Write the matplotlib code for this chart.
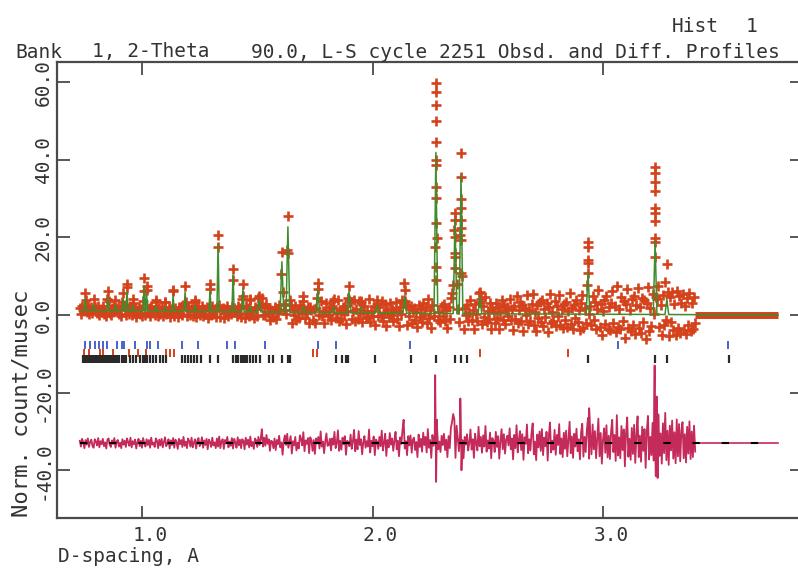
import numpy as np
import matplotlib
matplotlib.use('Agg')
import matplotlib.pyplot as plt
from matplotlib.transforms import ScaledTranslation

plt.rcParams['font.family'] = ['DejaVu Sans Mono', 'DejaVu Sans']

# ---- peaks: d-spacing, calc height, obs top ----
peak_d = [0.753, 0.790, 0.852, 0.885, 0.918, 0.935, 0.960, 1.009, 1.020, 1.060,
          1.100, 1.135, 1.187, 1.230, 1.295, 1.330, 1.395, 1.438, 1.470, 1.508,
          1.607, 1.633, 1.700, 1.763, 1.830, 1.898, 1.950, 2.020, 2.140, 2.275,
          2.358, 2.384, 2.466, 2.935, 3.226, 3.277]
peak_calc = [3.0, 1.5, 3.5, 1.5, 3.0, 5.0, 1.5, 6.5, 4.5, 1.2,
             1.0, 4.0, 5.0, 1.5, 5.5, 17.5, 9.5, 6.0, 1.5, 3.0,
             13.0, 22.0, 1.5, 6.0, 1.5, 5.5, 1.5, 2.0, 4.5, 41.5,
             24.5, 35.6, 4.5, 10.8, 18.8, 4.0]
peak_obs = [4.5, 3.0, 5.0, 2.8, 4.5, 7.0, 3.0, 8.5, 6.5, 2.8,
            2.5, 5.5, 6.5, 3.0, 7.0, 19.8, 11.0, 7.2, 3.0, 4.0,
            15.5, 24.7, 3.0, 7.5, 3.0, 7.0, 3.0, 3.5, 6.0, 59.3,
            26.0, 41.5, 5.5, 18.6, 38.0, 12.9]

# background knots
bg_d = [0.73, 1.0, 1.5, 2.0, 2.5, 3.0, 3.4, 3.76]
bg_y = [1.2, 1.0, 0.8, 0.5, 0.3, 0.2, 0.1, 0.0]

# obs - calc, every 0.005 A from 0.73 A (one row = 0.1 A)
grid_start, grid_step = 0.73, 0.005
dev = [0.6, -0.9, 1.1, 0.2, -1.3, 0.8, -0.4, 1.2, -1.0, 0.3, 0.9, -0.7, -1.2, 1.0, 0.4, -0.6, 1.3, -1.1, 0.5, -0.3,
       1.1, -0.8, 0.2, -1.4, 0.9, 1.2, -0.5, -1.0, 0.7, -0.2, 1.3, -1.2, 0.4, 0.8, -0.9, 0.1, -1.3, 1.0, -0.4, 0.6,
       -1.0, 1.2, 0.3, -0.7, 1.4, -1.1, 0.5, -0.3, 0.9, -1.4, 0.2, 1.1, -0.8, 0.6, -1.2, 1.3, -0.1, -0.9, 1.0, -0.5,
       0.8, -1.2, 1.4, -0.4, 0.1, -1.0, 1.2, 0.6, -1.3, 0.9, -0.6, 1.1, -1.1, 0.3, 1.5, -0.8, -0.2, 1.0, -1.4, 0.7,
       -0.5, 1.3, -1.2, 0.9, 0.2, -1.5, 1.1, -0.3, 0.8, -1.0, 1.6, -0.7, 0.4, -1.3, 1.2, 0.5, -0.9, 1.4, -1.1, 0.1,
       1.0, -1.4, 0.6, 1.3, -0.8, -0.2, 1.5, -1.2, 0.7, -0.5, 1.1, -1.6, 0.9, 0.3, -1.0, 1.4, -0.6, 0.2, -1.3, 1.2,
       -0.9, 1.7, -1.3, 0.5, 1.0, -1.5, 0.8, -0.1, 1.6, -1.1, 0.4, -0.7, 1.3, -1.4, 1.1, 0.2, -1.2, 1.5, -0.6, 0.9,
       -1.3, 1.0, 0.6, -1.6, 1.4, -0.4, 0.9, -1.1, 1.7, -0.8, 0.3, -1.5, 1.2, 0.7, -1.0, 1.6, -0.5, 1.1, 3.6, -0.9,
       1.4, -0.7, 2.1, -0.2, 1.0, -2.0, 0.6, 0.4, -1.3, 1.2, -1.8, 0.8, -0.3, 1.9, -1.1, 0.2, -3.0, 0.6, 2.0, -0.5,
       2.4, -1.2, 0.3, 1.8, -2.7, 0.5, -0.6, 1.6, -1.9, 0.1, -1.4, 2.0, 1.1, -0.6, 2.8, -2.1, 0.7, -0.2, 1.3, -2.6,
       1.5, 0.7, -2.0, 0.8, -2.8, 1.2, -0.1, 1.6, -1.4, 3.0, -0.9, 0.4, -2.6, 0.4, 2.5, -0.7, -0.5, 1.1, -1.9, 1.2,
       -0.4, 2.9, -1.3, 0.0, 3.3, -2.0, 0.6, -1.7, 1.4, -0.3, 1.8, -3.0, 0.6, 0.3, -0.8, 2.2, -1.5, 0.5, 3.4, -2.1,
       0.9, -1.6, 3.1, -0.5, 1.0, -2.9, 0.2, 1.8, -1.2, 0.5, -0.9, 3.5, -2.4, 0.6, -0.8, 1.7, -3.1, 0.9, 0.4, -1.5,
       1.6, -0.8, 3.2, -1.9, 0.1, 2.4, -3.3, 0.8, -1.1, 2.6, -0.4, 1.2, -2.0, 0.7, 2.9, -1.6, 0.6, -3.4, 1.5, -0.2,
       3.3, 6.0, -1.4, 0.5, -3.1, 1.8, -0.6, 2.0, -2.5, 0.9, 1.4, -1.8, 0.3, -3.6, 2.2, -1.0, 1.1, -2.2, 2.7, -0.5,
       1.6, -2.4, 3.6, -1.2, 0.8, -3.8, 2.1, -0.7, 1.5, -2.0, 4.0, -1.6, 0.4, -2.3, 1.9, -0.5, 2.4, -1.8, 0.9, -3.6,
       1.8, -1.3, 3.9, 5.4, 7.5, 6.2, -3.8, 4.5, 1.2, -2.1, 2.6, -1.5, 0.8, -3.9, 1.6, -0.4, 2.3, -1.9, 0.1, 3.5,
       -1.7, 1.0, -3.8, 2.4, 0.0, -1.9, 4.2, -0.8, 1.6, -2.5, 2.0, -0.9, 4.4, -2.2, 0.7, -1.4, 2.7, -3.9, 1.3, 0.6,
       -2.3, 2.9, -1.0, 1.8, -4.0, 0.5, 3.6, -1.6, 2.3, -2.7, 0.9, 1.9, -0.6, 3.8, -1.6, 1.2, -4.2, 2.1, -1.3, 4.6,
       -2.4, 0.9, 3.1, -1.8, 2.3, -4.3, 1.5, -0.2, 4.8, -2.6, 1.0, -1.9, 2.7, 5.1, -2.9, 0.4, -4.4, 2.2, -1.1, 3.0,
       -2.0, 3.6, -3.1, 1.4, -0.8, 2.9, -4.5, 1.9, 5.3, -2.4, 0.6, -1.7, 3.4, -3.0, 2.1, -0.5, 4.9, -2.8, 1.2, -3.6,
       2.7, -1.5, 3.2, -3.4, 0.8, 5.5, -2.6, 1.7, -3.8, 2.4, -0.9, 3.7, -2.1, 1.0, -4.2, 2.8, 5.0, -3.5, 1.6, -2.3,
       3.4, 6.5, -4.0, 2.2, -2.9, 4.8, -1.6, 3.1, -3.9, 1.3, 6.3, -3.4, 2.6, -5.3, 0.9, 3.8, -2.5, 4.6, -3.7, 1.9,
       -4.1, 3.0, 6.0, -2.3, 2.1, -4.6, 7.2, -3.2, 1.5, -3.9, 4.4, -1.8, 3.5, -6.0, 2.7, 6.6, -3.5, 1.1, -4.3, 3.9,
       -2.8, 4.7, -5.1, 2.4, 6.9, -3.6, 1.9, -4.8, 4.2, -2.0, 3.6, -6.4, 2.9, 7.0, -4.2, 1.6, -3.1, 5.2, -4.5, 3.3,
       -5.0, 4.0, 7.4, -3.3, 2.5, -5.3, 5.1, -2.6, 7.8, -4.4, 3.2, -5.6, 4.5, -1.9, 5.8, -4.0, 2.8, -5.2, 6.1, -3.4,
       4.9, -4.7, 3.1, 5.4, -3.9, 2.3, -5.0, 4.2, -2.7, 5.6, -4.1, 3.0, -3.6, 4.5, -2.2]

# big misfits at the strong peaks
spike_d = [2.272, 2.276, 2.280, 2.381, 2.386, 2.940, 3.224, 3.229, 3.233, 3.237]
spike_dev = [17.5, -10.0, 6.0, 11.5, -7.0, 9.0, 20.0, -8.5, 12.0, -9.0]

# obs points stacked up the strong peaks
stack_d = [2.275, 2.358, 2.384, 2.935, 3.226]
stack_y = [[57.5, 54.1, 50.0, 44.6, 38.7, 33.0, 30.2, 23.7, 12.4, 9.0],
           [24.5, 20.0, 16.0, 12.0],
           [35.6, 27.6, 24.5, 22.4, 19.3, 10.8],
           [14.2, 13.4, 10.8],
           [36.6, 34.3, 32.0, 27.6, 26.3, 24.2, 18.8, 14.9]]

excl_lo, excl_hi = 3.40, 3.76
diff_off = -33.0

# reflection markers, three phases
tick_blue = [0.753, 0.774, 0.796, 0.813, 0.831, 0.848, 0.892, 0.913, 0.922, 0.970,
             1.022, 1.035, 1.069, 1.174, 1.243, 1.369, 1.403, 1.534, 1.764, 1.842,
             2.163, 3.065, 3.542]
tick_red = [0.748, 0.770, 0.818, 0.831, 0.874, 0.944, 0.983, 1.017, 1.104, 1.121,
            1.139, 1.742, 1.759, 2.466, 2.848]
tick_black = [0.742, 0.748, 0.755, 0.761, 0.768, 0.776, 0.783, 0.790, 0.797, 0.804,
              0.810, 0.818, 0.826, 0.834, 0.842, 0.850, 0.858, 0.866, 0.875, 0.884,
              0.893, 0.902, 0.912, 0.922, 0.932, 0.948, 0.960, 0.975, 0.990, 1.004,
              1.012, 1.022, 1.035, 1.048, 1.062, 1.076, 1.090, 1.105, 1.174, 1.186,
              1.198, 1.212, 1.226, 1.240, 1.255, 1.295, 1.330, 1.395, 1.408, 1.416,
              1.430, 1.438, 1.447, 1.456, 1.469, 1.482, 1.495, 1.512, 1.551, 1.568,
              1.607, 1.633, 1.642, 1.842, 1.868, 1.885, 1.894, 2.011, 2.167, 2.275,
              2.358, 2.384, 2.410, 2.935, 3.226, 3.278, 3.547]

xticks = [1.0, 2.0, 3.0]
xtick_labels = ['1.0', '2.0', '3.0']
yticks = [-40, -20, 0, 20, 40, 60]
ytick_labels = ['-40.0', '-20.0', '0.0', '20.0', '40.0', '60.0']

c_obs = '#d4421c'
c_calc = '#3f8c2c'
c_diff = '#c42a5a'
c_blue = '#4a62c8'
c_black = '#2a2a2a'
c_axis = '#4a4a4a'
c_text = '#333333'

# calc curve: background with a narrow peak on each reflection
cx = [bg_d[0]]
ch = [0.0]
for d, h in zip(peak_d, peak_calc):
    w = 0.005 if d < 1.5 else 0.008
    cx += [d - w, d, d + w]
    ch += [0.0, h, 0.0]
cx.append(excl_hi)
ch.append(0.0)
cx = np.array(cx)
cy = np.interp(cx, bg_d, bg_y) + np.array(ch)

grid = grid_start + grid_step * np.arange(len(dev))
obs_grid = np.interp(grid, cx, cy) + np.array(dev)
top_y = np.interp(peak_d, bg_d, bg_y) + np.array(peak_obs)

dd = np.concatenate([grid, spike_d])
dv = np.concatenate([dev, spike_dev])
order = np.argsort(dd)
dd, dv = dd[order], dv[order]

fig = plt.figure(figsize=(7.98, 5.70), dpi=100)
ax = fig.add_axes([57 / 798, 1 - 518 / 570, 745 / 798, 456 / 570])

ms, mew = 6.5, 1.9
ax.plot(grid, obs_grid, '+', color=c_obs, ms=ms, mew=mew, zorder=2)
ax.plot(peak_d, top_y, '+', color=c_obs, ms=ms, mew=mew, zorder=2)
for d, ys in zip(stack_d, stack_y):
    ax.plot([d] * len(ys), ys, '+', color=c_obs, ms=ms, mew=mew, zorder=2)
ax.plot([excl_lo, excl_hi], [0, 0], color=c_obs, lw=5, solid_capstyle='butt', zorder=2)
ax.plot(cx, cy, color=c_calc, lw=1.1, zorder=3)

ax.plot(dd, diff_off + dv, color=c_diff, lw=1.3, zorder=2)
ax.plot([dd[-1], excl_hi], [diff_off, diff_off], color=c_diff, lw=1.2, zorder=2)
ax.plot([grid_start, excl_hi], [diff_off, diff_off], color='black', lw=1.5,
        dashes=(3.5, 10.5), zorder=4)

ax.plot(tick_blue, [-7.7] * len(tick_blue), '|', color=c_blue, ms=6, mew=1.4)
ax.plot(tick_red, [-9.7] * len(tick_red), '|', color=c_obs, ms=6, mew=1.4)
ax.plot(tick_black, [-11.3] * len(tick_black), '|', color=c_black, ms=6, mew=1.6)

ax.set_xlim(1 + (57 - 142) / 230.5, 1 + (802 - 142) / 230.5)
ax.set_ylim(-52.3, 65.2)

ax.set_xticks(xticks)
ax.set_xticklabels(xtick_labels)
ax.set_yticks(yticks)
ax.set_yticklabels(ytick_labels, rotation=90, va='center')
ax.tick_params(direction='in', length=9, width=1.3, color=c_axis, labelsize=14,
               labelcolor=c_text, top=True, right=True)
ax.tick_params(axis='x', pad=6)
ax.tick_params(axis='y', pad=3)
for lab in ax.get_xticklabels():
    lab.set_transform(lab.get_transform() + ScaledTranslation(8 / 100, 0, fig.dpi_scale_trans))
for s in ax.spines.values():
    s.set_color(c_axis)
    s.set_linewidth(1.6)

fig.text(15 / 798, 1 - 52 / 570, 'Bank', fontsize=14, color=c_text, va='center')
fig.text(92 / 798, 1 - 52 / 570, '1, 2-Theta', fontsize=14, color=c_text, va='center')
fig.text(780 / 798, 1 - 52 / 570, '90.0, L-S cycle 2251 Obsd. and Diff. Profiles',
         fontsize=14, color=c_text, va='center', ha='right')
fig.text(672 / 798, 1 - 26 / 570, 'Hist', fontsize=14, color=c_text, va='center')
fig.text(757 / 798, 1 - 26 / 570, '1', fontsize=14, color=c_text, va='center', ha='right')
fig.text(22 / 798, 1 - 517 / 570, 'Norm. count/musec', fontsize=16, color=c_text,
         rotation=90, ha='center', va='bottom')
fig.text(58 / 798, 1 - 557 / 570, 'D-spacing, A', fontsize=14, color=c_text, va='center')

fig.savefig('out.png', dpi=100)
